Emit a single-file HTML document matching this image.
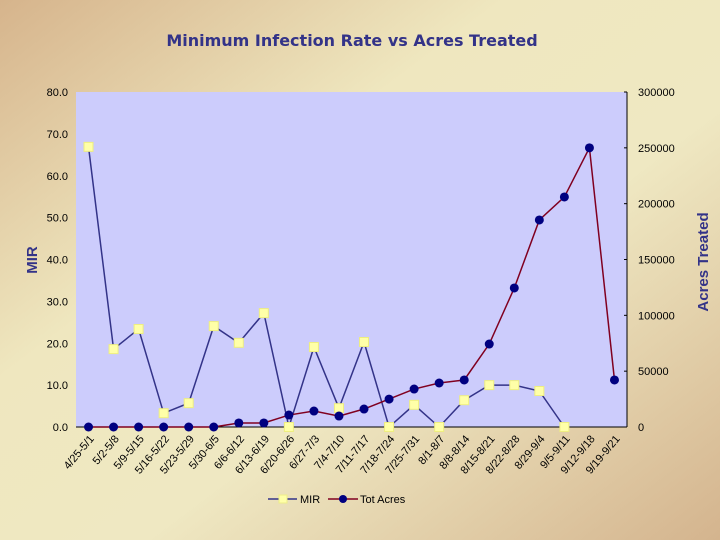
<!DOCTYPE html>
<html><head><meta charset="utf-8"><style>
body{margin:0;width:720px;height:540px;overflow:hidden}
svg{display:block;font-family:"Liberation Sans",sans-serif}
</style></head><body>
<svg id="c" width="720" height="540">
<defs>
<linearGradient id="bg" x1="0" y1="0" x2="1" y2="1">
<stop offset="0" stop-color="#d6b48c"/><stop offset="0.35" stop-color="#efe7bf"/><stop offset="0.6" stop-color="#efe8c2"/><stop offset="1" stop-color="#d4b48e"/>
</linearGradient>
</defs>
<rect width="720" height="540" fill="url(#bg)"/>
<rect x="76" y="92" width="551" height="335" fill="#ccccfc"/>
<text x="352" y="46" text-anchor="middle" font-size="16" font-weight="bold" fill="#333388" style="font-family:'DejaVu Sans',sans-serif">Minimum Infection Rate vs Acres Treated</text>
<text transform="translate(37,260) rotate(-90)" text-anchor="middle" font-size="15" font-weight="bold" fill="#333388">MIR</text>
<text transform="translate(708,262) rotate(-90)" text-anchor="middle" font-size="15" font-weight="bold" fill="#333388">Acres Treated</text>
<line x1="627" y1="92" x2="627" y2="427" stroke="#000"/>
<line x1="76" y1="427" x2="627" y2="427" stroke="#000"/>
<g id="g"></g>
<g>
<line x1="268" y1="499" x2="297" y2="499" stroke="#333388" stroke-width="1.5"/>
<rect x="279" y="495" width="8" height="8" fill="#ffffa8" stroke="#eeee88"/>
<text x="300" y="503" font-size="11">MIR</text>
<line x1="328" y1="499" x2="358" y2="499" stroke="#800020" stroke-width="1.5"/>
<circle cx="343" cy="499" r="4" fill="#000080"/>
<text x="360" y="503" font-size="11">Tot Acres</text>
</g>
</svg>
<script>
const categories=["4/25-5/1","5/2-5/8","5/9-5/15","5/16-5/22","5/23-5/29","5/30-6/5","6/6-6/12","6/13-6/19","6/20-6/26","6/27-7/3","7/4-7/10","7/11-7/17","7/18-7/24","7/25-7/31","8/1-8/7","8/8-8/14","8/15-8/21","8/22-8/28","8/29-9/4","9/5-9/11","9/12-9/18","9/19-9/21"];
const mir=[66.9,18.6,23.4,3.3,5.7,24.1,20.1,27.2,0,19.1,4.5,20.3,0,5.3,0,6.4,10,10,8.6,0,null,null];
const acres=[0,0,0,0,0,0,3600,3600,10700,14300,9800,16100,25000,34000,39400,42100,74300,124500,185400,206000,250000,42100];
const leftTicks=[0,10,20,30,40,50,60,70,80];
const rightTicks=[0,50000,100000,150000,200000,250000,300000];
const NS="http://www.w3.org/2000/svg",g=document.getElementById('g');
const L=76,R=627,T=92,B=427,bw=(R-L)/categories.length;
const x=i=>L+bw*(i+0.5), yl=v=>B-v/80*(B-T), yr=v=>B-v/300000*(B-T);
function mk(t,a,p){const e=document.createElementNS(NS,t);for(const k in a)e.setAttribute(k,a[k]);(p||g).appendChild(e);return e;}
leftTicks.forEach(v=>{const t=mk('text',{x:68,y:yl(v)+4,'text-anchor':'end','font-size':11});t.textContent=v.toFixed(1);

});
rightTicks.forEach(v=>{const t=mk('text',{x:638,y:yr(v)+4,'font-size':11});t.textContent=v;


mk('line',{x1:624,x2:627,y1:yr(v),y2:yr(v),stroke:'#000'});});
categories.forEach((c,i)=>{const t=mk('text',{transform:`translate(${x(i)+6},${B+12}) rotate(-50)`,'text-anchor':'end','font-size':11});t.textContent=c;

});
let pm=[];mir.forEach((v,i)=>{if(v!==null)pm.push(x(i)+','+yl(v));});
const l1=mk('polyline',{points:pm.join(' '),fill:'none',stroke:'#333388','stroke-width':1.5});


const l2=mk('polyline',{points:acres.map((v,i)=>x(i)+','+yr(v)).join(' '),fill:'none',stroke:'#800020','stroke-width':1.5});


mir.forEach((v,i)=>{if(v===null)return;const r=mk('rect',{x:x(i)-4.5,y:yl(v)-4.5,width:9,height:9,fill:'#ffffa8',stroke:'#eeee80'});

});
acres.forEach((v,i)=>{const c=mk('circle',{cx:x(i),cy:yr(v),r:4.5,fill:'#000080'});

});
</script>
</body></html>
